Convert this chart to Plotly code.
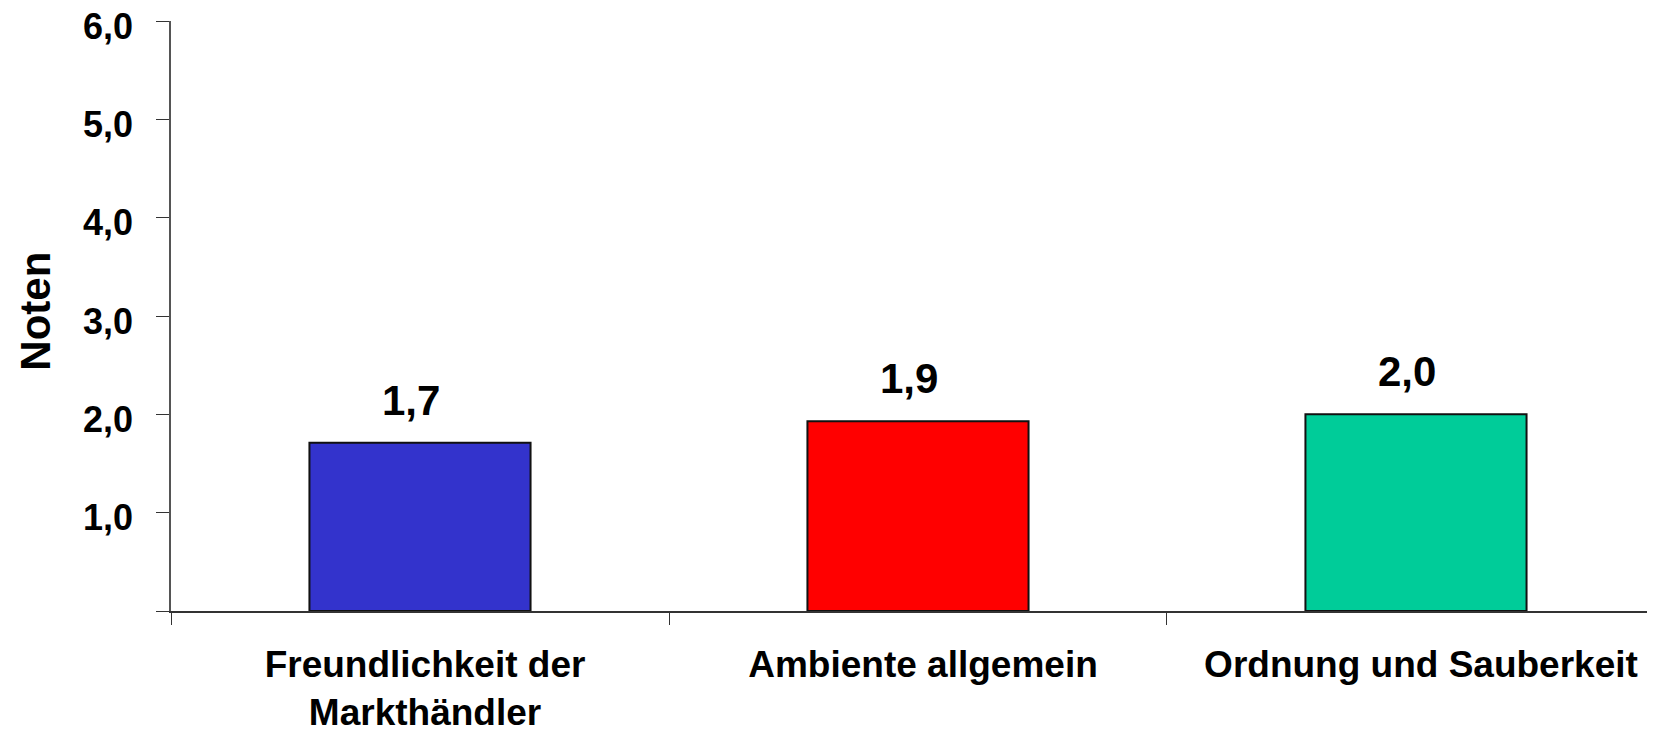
import plotly.graph_objects as go

categories = ["Freundlichkeit der<br>Markthändler", "Ambiente allgemein", "Ordnung und Sauberkeit"]
values = [1.71, 1.93, 2.0]
value_labels = ["1,7", "1,9", "2,0"]
colors = ["#3333CC", "#FF0000", "#00CC99"]
y_tickvals = [0, 1, 2, 3, 4, 5, 6]
y_ticktext = ["", "1,0", "2,0", "3,0", "4,0", "5,0", "6,0"]
y_title = "Noten"

FONT = "Liberation Sans, Arial, Helvetica, sans-serif"

fig = go.Figure()
fig.add_trace(go.Bar(
    x=categories,
    y=values,
    marker=dict(color=colors, line=dict(color="#111111", width=2)),
    width=0.444,
    hoverinfo="skip",
))

for c, v, t in zip(categories, values, value_labels):
    fig.add_annotation(
        x=c, y=v, text=t, showarrow=False,
        yanchor="bottom", yshift=17, xshift=-9,
        font=dict(family=FONT, size=42, color="black", weight="bold"),
    )

fig.add_annotation(
    xref="paper", yref="paper", x=-0.0905, y=0.509,
    xanchor="center", yanchor="middle",
    text=y_title, textangle=-90, showarrow=False,
    font=dict(family=FONT, size=42, color="black", weight="bold"),
)

fig.update_layout(
    width=1655, height=730,
    margin=dict(l=163, r=0, t=13, b=127, pad=0),
    paper_bgcolor="white", plot_bgcolor="white",
    showlegend=False,
    font=dict(family=FONT, color="black"),
)

fig.update_xaxes(
    type="category",
    range=[-0.5, 2.496],
    tickson="boundaries",
    ticks="outside", ticklen=12, tickwidth=1.2, tickcolor="#333333",
    showline=True, linecolor="#333333", linewidth=1.5,
    showgrid=False, zeroline=False,
    tickfont=dict(family=FONT, size=37, color="black", weight="bold"),
    ticklabelstandoff=20,
    ticklabelshift=5,
    ticklabeloverflow="allow",
    automargin=False,
)

fig.update_yaxes(
    range=[0, 6],
    tickvals=y_tickvals, ticktext=y_ticktext,
    ticks="outside", ticklen=13, tickwidth=1.2, tickcolor="#333333",
    showline=True, linecolor="#555555", linewidth=1.5,
    showgrid=False, zeroline=False,
    tickfont=dict(family=FONT, size=36, color="black", weight="bold"),
    ticklabelstandoff=16,
    ticklabelshift=5,
    ticklabeloverflow="allow",
    automargin=False,
)

fig.write_html("out.html")
